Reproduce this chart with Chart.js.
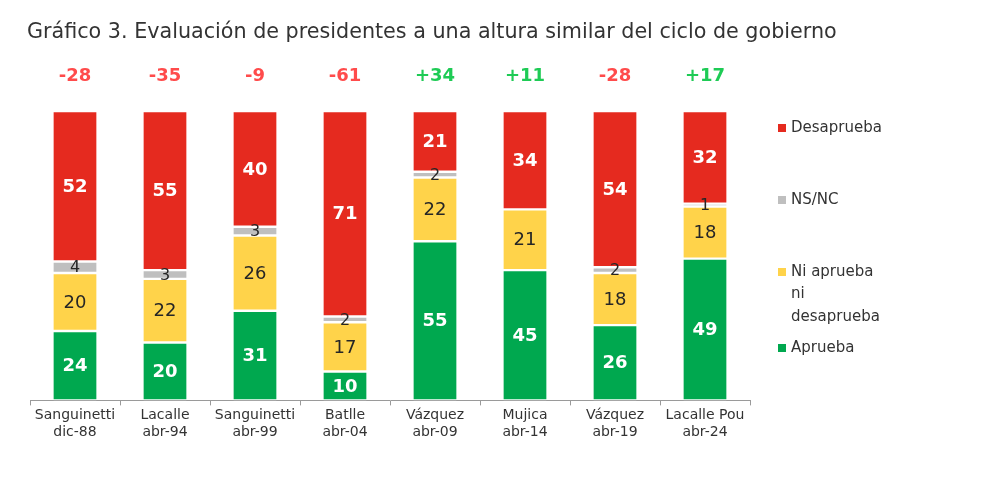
<!DOCTYPE html>
<html>
<head>
<meta charset="utf-8">
<script src="https://cdn.jsdelivr.net/npm/chart.js@4"></script>
<style>
  html, body { margin: 0; padding: 0; background: #fff; }
  #wrap { width: 1000px; height: 489px; }
</style>
</head>
<body>
<div id="wrap"><canvas id="evalChart" width="1000" height="489"></canvas></div>
<script>
const categories = [
    ['Sanguinetti', 'dic-88'], ['Lacalle', 'abr-94'], ['Sanguinetti', 'abr-99'], ['Batlle', 'abr-04'],
    ['Vázquez', 'abr-09'], ['Mujica', 'abr-14'], ['Vázquez', 'abr-19'], ['Lacalle Pou', 'abr-24']
];
const aprueba = [24, 20, 31, 10, 55, 45, 26, 49];
const niNi = [20, 22, 26, 17, 22, 21, 18, 18];
const nsnc = [4, 3, 3, 2, 2, 0, 2, 1];
const desaprueba = [52, 55, 40, 71, 21, 34, 54, 32];
const balance = [-28, -35, -9, -61, 34, 11, -28, 17];

const TITLE = 'Gráfico 3. Evaluación de presidentes a una altura similar del ciclo de gobierno';
const FONT = "'DejaVu Sans', sans-serif";

// title, value labels inside each segment, net balance above the bars, legend on the right
const labelsPlugin = {
    id: 'labels',
    afterDatasetsDraw(chart) {
        const ctx = chart.ctx;
        ctx.save();
        ctx.textBaseline = 'middle';
        ctx.textAlign = 'left';
        ctx.font = '20.7px ' + FONT;
        ctx.fillStyle = '#333333';
        ctx.fillText(TITLE, 27, 33);

        ctx.textAlign = 'center';
        chart.data.datasets.forEach((ds, i) => {
            const meta = chart.getDatasetMeta(i);
            meta.data.forEach((bar, j) => {
                const v = ds.data[j];
                if (!v) return;
                const y = (bar.y + bar.base) / 2;
                if (ds.labelStyle === 'white') {
                    ctx.font = 'bold 18px ' + FONT;
                    ctx.fillStyle = '#ffffff';
                } else {
                    ctx.font = (ds.labelStyle === 'small' ? '16px ' : '18px ') + FONT;
                    ctx.fillStyle = '#262626';
                }
                ctx.fillText(v, bar.x, y + 1);
            });
        });
        // net balance
        const meta0 = chart.getDatasetMeta(0);
        ctx.font = 'bold 18px ' + FONT;
        balance.forEach((b, j) => {
            ctx.fillStyle = b < 0 ? '#ff4b4b' : '#1ecb55';
            ctx.fillText((b > 0 ? '+' : '') + b, meta0.data[j].x, 76);
        });
        // legend
        const items = [
            { lines: ['Desaprueba'], color: '#e52a1f', y: 128 },
            { lines: ['NS/NC'], color: '#bfbfbf', y: 200 },
            { lines: ['Ni aprueba', 'ni', 'desaprueba'], color: '#ffd34a', y: 272 },
            { lines: ['Aprueba'], color: '#00a84f', y: 348 }
        ];
        ctx.textAlign = 'left';
        ctx.font = '15px ' + FONT;
        items.forEach(it => {
            ctx.fillStyle = it.color;
            ctx.fillRect(778, it.y - 4, 8, 8);
            ctx.fillStyle = '#333333';
            it.lines.forEach((t, k) => ctx.fillText(t, 791, it.y + k * 22.5));
        });
        ctx.restore();
    }
};

new Chart(document.getElementById('evalChart').getContext('2d'), {
    type: 'bar',
    data: {
        labels: categories,
        datasets: [
            { label: 'Aprueba', data: aprueba, backgroundColor: '#00a84f', labelStyle: 'white' },
            { label: 'Ni aprueba ni desaprueba', data: niNi, backgroundColor: '#ffd34a', labelStyle: 'dark' },
            { label: 'NS/NC', data: nsnc, backgroundColor: '#bfbfbf', labelStyle: 'small' },
            { label: 'Desaprueba', data: desaprueba, backgroundColor: '#e52a1f', labelStyle: 'white' }
        ]
    },
    options: {
        responsive: false,
        animation: false,
        devicePixelRatio: 1,
        layout: { padding: { left: 30, right: 250, top: 111, bottom: 46 } },
        datasets: {
            bar: {
                barPercentage: 0.48,
                categoryPercentage: 1,
                borderColor: '#ffffff',
                borderWidth: { top: 1.2, bottom: 1.2, left: 0, right: 0 },
                borderSkipped: false
            }
        },
        scales: {
            x: {
                stacked: true,
                grid: { drawOnChartArea: false, offset: true, tickLength: 5, color: '#9a9a9a' },
                border: { color: '#9a9a9a' },
                ticks: { color: '#333333', font: { family: FONT, size: 14 }, padding: 2, maxRotation: 0, autoSkip: false }
            },
            y: {
                stacked: true,
                display: false,
                min: 0,
                max: 100
            }
        },
        plugins: {
            legend: { display: false },
            tooltip: { enabled: false },
            title: { display: false }
        }
    },
    plugins: [labelsPlugin]
});
</script>
</body>
</html>
